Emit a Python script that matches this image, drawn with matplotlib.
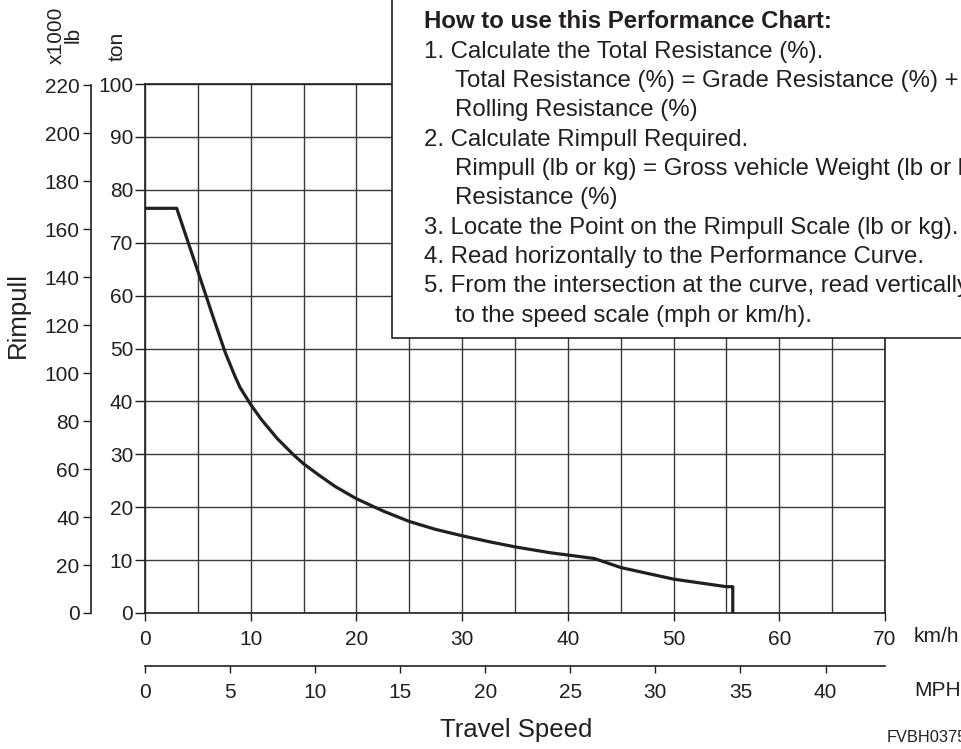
import matplotlib
matplotlib.use("Agg")
import matplotlib.pyplot as plt
from matplotlib.patches import Rectangle

plt.rcParams['font.family'] = ['Liberation Sans', 'DejaVu Sans']

INK = '#231f20'

# performance curve (speed in km/h, rimpull in metric ton)
speed_kmh = [0, 3.0, 5.0, 6.5, 7.6, 8.5, 9.0, 10.0, 11.0, 12.5, 14.0, 15.0, 16.5, 18.0, 20.0,
             22.5, 25.0, 27.5, 30.0, 32.5, 35.0, 38.3, 40.0, 42.5, 45.0, 50.0, 55.0, 55.6, 55.6]
rimpull_ton = [76.5, 76.5, 64.6, 55.6, 49.2, 44.8, 42.6, 39.4, 36.6, 33.0, 30.0, 28.2, 26.0, 23.9,
               21.6, 19.3, 17.3, 15.8, 14.6, 13.5, 12.5, 11.4, 10.96, 10.3, 8.6, 6.4, 4.97, 4.97, 0]

kmh_ticks = list(range(0, 71, 10))
mph_ticks = list(range(0, 41, 5))
ton_ticks = list(range(0, 101, 10))
lb_ticks = list(range(0, 221, 20))

LB_PER_TON = 2.20462
KMH_PER_MPH = 1.609344

howto_lines = [
    (0, "How to use this Performance Chart:", 'bold'),
    (0, "1. Calculate the Total Resistance (%).", 'normal'),
    (1, "Total Resistance (%) = Grade Resistance (%) + ", 'normal'),
    (1, "Rolling Resistance (%)", 'normal'),
    (0, "2. Calculate Rimpull Required.", 'normal'),
    (1, "Rimpull (lb or kg) = Gross vehicle Weight (lb or kg) x Total", 'normal'),
    (1, "Resistance (%)", 'normal'),
    (0, "3. Locate the Point on the Rimpull Scale (lb or kg).", 'normal'),
    (0, "4. Read horizontally to the Performance Curve.", 'normal'),
    (0, "5. From the intersection at the curve, read vertically", 'normal'),
    (1, "to the speed scale (mph or km/h).", 'normal'),
]

W, H = 962, 749
fig = plt.figure(figsize=(W / 100, H / 100), dpi=100)


def fx(px):
    return px / W


def fy(py):
    return 1 - py / H


ax = fig.add_axes([fx(145), fy(613), (885 - 145) / W, (613 - 84) / H])
ax.set_xlim(0, 70)
ax.set_ylim(0, 100)
ax.plot(speed_kmh, rimpull_ton, color=INK, lw=2.3, solid_joinstyle='round', zorder=3)

ax.set_xticks(kmh_ticks)
ax.set_xticks(list(range(5, 70, 10)), minor=True)
ax.set_yticks(ton_ticks)
ax.grid(which='both', color='#3a3a3a', lw=1.0)
ax.tick_params(axis='x', which='major', direction='out', length=6, width=1.0,
               labelsize=15, pad=6, colors=INK)
ax.tick_params(axis='x', which='minor', length=0)
ax.tick_params(axis='y', direction='out', length=7, width=1.0,
               labelsize=15, pad=1.5, colors=INK)
for s in ax.spines.values():
    s.set_color(INK)
    s.set_linewidth(1.2)

# lb scale on the far left
ax2 = ax.twinx()
ax2.set_ylim(0, 100 * LB_PER_TON)
ax2.yaxis.set_ticks_position('left')
ax2.spines['left'].set_position(('axes', -(145 - 90.7) / 740))
ax2.spines['left'].set_bounds(0, 220)
ax2.spines['left'].set_color(INK)
ax2.spines['left'].set_linewidth(1.2)
for side in ['right', 'top', 'bottom']:
    ax2.spines[side].set_visible(False)
ax2.set_yticks(lb_ticks)
ax2.tick_params(axis='y', direction='out', length=6, width=1.0,
                labelsize=15, pad=2, colors=INK)

# MPH scale below km/h
sec = ax.secondary_xaxis(-(666 - 613) / 529,
                         functions=(lambda k: k / KMH_PER_MPH, lambda m: m * KMH_PER_MPH))
sec.set_xticks(mph_ticks)
sec.tick_params(direction='out', length=5, width=1.0, labelsize=15, pad=7.5, colors=INK)
sec.spines['bottom'].set_color(INK)
sec.spines['bottom'].set_linewidth(1.2)

# labels
fig.text(fx(914), fy(637), "km/h", fontsize=15, color=INK, va='center', ha='left')
fig.text(fx(914), fy(690), "MPH", fontsize=15, color=INK, va='center', ha='left')
fig.text(fx(516), fy(730), "Travel Speed", fontsize=18.5, color=INK, va='center', ha='center')
fig.text(fx(18), fy(315), "Rimpull", fontsize=18.5, color=INK, rotation=90,
         va='center', ha='center')
fig.text(fx(65), fy(35), "x1000\nlb", fontsize=15, color=INK, rotation=90,
         va='center', ha='center', linespacing=0.85)
fig.text(fx(117), fy(46), "ton", fontsize=15, color=INK, rotation=90,
         va='center', ha='center')
fig.text(fx(887), fy(738), "FVBH0375", fontsize=11.8, color=INK, va='center', ha='left')

# instruction box (runs off the top and right edge)
fig.patches.append(Rectangle((fx(392), fy(338)), 1, 1, transform=fig.transFigure,
                             facecolor='white', edgecolor=INK, lw=1.2, zorder=5))
for i, (indent, line, weight) in enumerate(howto_lines):
    x = 455 if indent else 424.3
    fig.text(fx(x), fy(28.5 + 29.33 * i), line, fontsize=17.3, fontweight=weight,
             color=INK, va='baseline', ha='left', zorder=6)

fig.savefig("out.png", dpi=100)
